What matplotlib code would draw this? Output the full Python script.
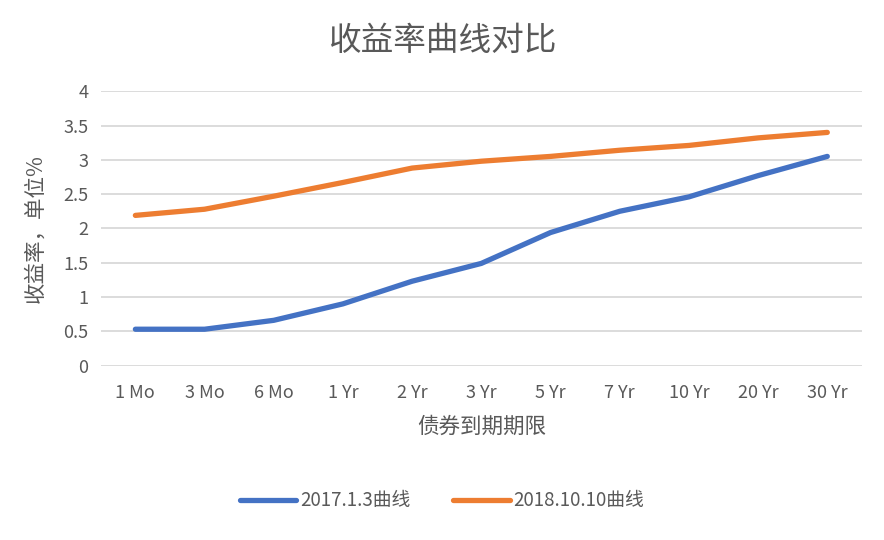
import numpy as np
import matplotlib
matplotlib.use("Agg")
import matplotlib.pyplot as plt

plt.rcParams['font.family'] = ['Noto Sans CJK SC', 'DejaVu Sans']

terms = ['1 Mo', '3 Mo', '6 Mo', '1 Yr', '2 Yr', '3 Yr', '5 Yr', '7 Yr', '10 Yr', '20 Yr', '30 Yr']
yield_2017 = [0.53, 0.53, 0.66, 0.90, 1.23, 1.49, 1.94, 2.25, 2.46, 2.77, 3.05]
yield_2018 = [2.19, 2.28, 2.47, 2.67, 2.88, 2.98, 3.05, 3.14, 3.21, 3.32, 3.40]

grey = '#595959'

fig = plt.figure(figsize=(8.84, 5.4), dpi=100)
ax = fig.add_axes([0.114, 0.323, 0.861, 0.508])

x = np.arange(len(terms))
ax.plot(x, yield_2017, color='#4472C4', lw=3.8, solid_capstyle='round', solid_joinstyle='round', label='2017.1.3曲线')
ax.plot(x, yield_2018, color='#ED7D31', lw=3.8, solid_capstyle='round', solid_joinstyle='round', label='2018.10.10曲线')

ax.set_xlim(-0.5, len(terms) - 0.5)
ax.set_ylim(0, 4)
ax.set_yticks(np.arange(0, 4.01, 0.5))
ax.set_yticklabels(['0', '0.5', '1', '1.5', '2', '2.5', '3', '3.5', '4'])
ax.set_xticks(x)
ax.set_xticklabels(terms)
ax.tick_params(length=0, labelsize=13, colors=grey, pad=13)
ax.tick_params(axis='y', pad=9)
ax.grid(axis='y', color='#D9D9D9', lw=1.3)
ax.set_axisbelow(True)
for s in ax.spines.values():
    s.set_visible(False)

ax.set_xlabel('债券到期期限', fontsize=15.5, color=grey, labelpad=10)
ax.set_ylabel('收益率，单位%', fontsize=15.5, color=grey, labelpad=12)
fig.text(0.5, 0.925, '收益率曲线对比', ha='center', va='center', fontsize=23.5, color=grey)

leg = fig.legend(loc='center', bbox_to_anchor=(0.5, 0.073), ncol=2, frameon=False,
                 fontsize=13.5, handlelength=3.0, columnspacing=2.3, handletextpad=0.2)
for t in leg.get_texts():
    t.set_color(grey)

fig.savefig('out.png', dpi=100)
